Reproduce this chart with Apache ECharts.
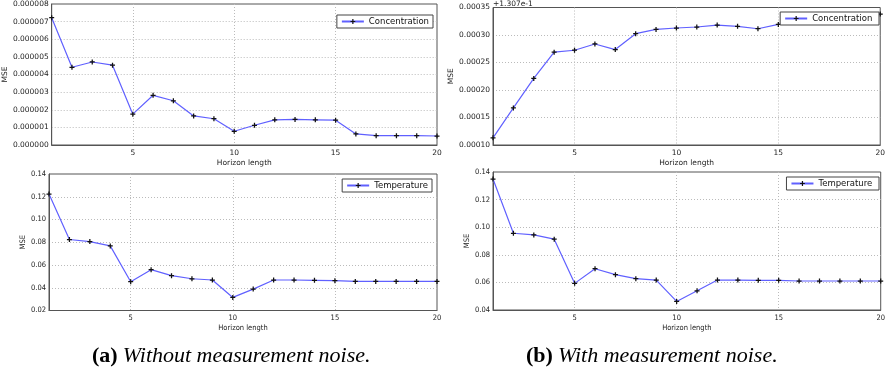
<!DOCTYPE html>
<html>
<head>
<meta charset="utf-8">
<script src="https://cdn.jsdelivr.net/npm/echarts@6/dist/echarts.min.js"></script>
<style>
    html, body { margin: 0; padding: 0; background: #fff; }
    #chart { width: 888px; height: 372px; }
</style>
</head>
<body>
<div id="chart"></div>
<script>
// horizon lengths (x axis)
const horizon = ["1", "2", "3", "4", "5", "6", "7", "8", "9", "10",
    "11", "12", "13", "14", "15", "16", "17", "18", "19", "20"];

// (a) without measurement noise
const concNoNoise = [7.22e-6, 4.41e-6, 4.71e-6, 4.53e-6, 1.75e-6, 2.82e-6, 2.51e-6, 1.65e-6, 1.49e-6, 0.78e-6,
    1.12e-6, 1.43e-6, 1.45e-6, 1.43e-6, 1.41e-6, 0.63e-6, 0.53e-6, 0.53e-6, 0.53e-6, 0.51e-6];
const tempNoNoise = [0.1224, 0.0824, 0.0806, 0.0768, 0.0453, 0.0559, 0.0506, 0.0479, 0.0468, 0.0315,
    0.0388, 0.0468, 0.0468, 0.0465, 0.0462, 0.0456, 0.0456, 0.0456, 0.0456, 0.0456];

// (b) with measurement noise (concentration shown relative to offset +1.307e-1)
const concOffsetText = "+1.307e-1";
const concNoise = [0.000113, 0.0001675, 0.000221, 0.0002687, 0.0002723, 0.0002837, 0.0002735, 0.0003024, 0.0003102, 0.0003127,
    0.0003145, 0.000318, 0.0003157, 0.0003114, 0.0003193, 0.000326, 0.00033, 0.000333, 0.000335, 0.000338];
const tempNoise = [0.1349, 0.0956, 0.0944, 0.0913, 0.0593, 0.0699, 0.0656, 0.0627, 0.0617, 0.0462,
    0.0539, 0.0617, 0.0617, 0.0615, 0.0615, 0.061, 0.061, 0.061, 0.061, 0.061];

// y axis ranges [min, max, interval, decimals]
const yConcA = [0, 0.000008, 0.000001, 6];
const yTempA = [0.02, 0.14, 0.02, 2];
const yConcB = [0.0001, 0.00035, 0.00005, 5];
const yTempB = [0.04, 0.14, 0.02, 2];

const font = "DejaVu Sans";
const axisColor = "#555";
const plusSymbol = "path://M-1,-4H1V-1H4V1H1V4H-1V1H-4V-1H-1Z";

const grids = [
    { left: 49, top: 3.5, width: 388, height: 141.5 },
    { left: 493, top: 7.5, width: 390, height: 137.5 },
    { left: 49, top: 174, width: 388, height: 136.5 },
    { left: 493, top: 172, width: 391, height: 138 },
];

function makeX(i, condensed) {
    return {
        type: "category",
        gridIndex: i,
        data: horizon,
        boundaryGap: false,
        name: "Horizon length",
        nameLocation: "middle",
        nameGap: 14,
        nameTextStyle: { fontFamily: condensed ? "DejaVu Sans Condensed" : font, fontSize: 7.5, color: "#222" },
        axisLine: { show: true, lineStyle: { color: axisColor } },
        axisTick: { show: false },
        axisLabel: {
            interval: (idx, val) => Number(val) % 5 === 0,
            fontFamily: condensed ? "DejaVu Sans Condensed" : font,
            fontSize: 7.5,
            color: "#222",
            margin: 4,
        },
        splitLine: {
            show: true,
            interval: (idx, val) => Number(val) % 5 === 0 && Number(val) !== 20,
            lineStyle: { color: "#bbb", type: [1, 2], width: 1 },
        },
    };
}

function makeY(i, r, nameGap, condensed) {
    return {
        type: "value",
        gridIndex: i,
        min: r[0],
        max: r[1],
        interval: r[2],
        name: "MSE",
        nameLocation: "middle",
        nameGap: nameGap,
        nameTextStyle: { fontFamily: condensed ? "DejaVu Sans Condensed" : font, fontSize: 7.5, color: "#222" },
        axisLine: { show: true, lineStyle: { color: axisColor } },
        axisTick: { show: false },
        axisLabel: {
            fontFamily: condensed ? "DejaVu Sans Condensed" : font,
            fontSize: 7.5,
            color: "#222",
            margin: 3,
            formatter: (v) => v.toFixed(r[3]),
        },
        splitLine: {
            show: true,
            showMinLine: false,
            showMaxLine: false,
            lineStyle: { color: "#bbb", type: [1, 2], width: 1 },
        },
    };
}

function makeSeries(i, name, data) {
    return {
        name: name,
        type: "line",
        xAxisIndex: i,
        yAxisIndex: i,
        data: data,
        symbol: plusSymbol,
        symbolSize: 5,
        showAllSymbol: true,
        itemStyle: { color: "#111" },
        lineStyle: { color: "#6060ff", width: 1.2 },
        z: 2,
    };
}

function makeLegend(i, name, right, top) {
    return {
        data: [name],
        right: right,
        top: top,
        orient: "vertical",
        backgroundColor: "#fff",
        borderColor: "#444",
        borderWidth: 1,
        borderRadius: 0,
        padding: [2, 4, 2, 4],
        itemWidth: 22,
        itemHeight: 6,
        itemGap: 0,
        selectedMode: false,
        textStyle: { fontFamily: font, fontSize: 8.5, color: "#111" },
        z: 10,
    };
}

const captionRich = {
    b: { fontFamily: "Liberation Serif", fontWeight: "bold", fontSize: 22, color: "#000" },
    i: { fontFamily: "Liberation Serif", fontWeight: "normal", fontStyle: "italic", fontSize: 22, color: "#000" },
};

const chart = echarts.init(document.getElementById("chart"), null, { renderer: "canvas" });
chart.setOption({
    animation: false,
    backgroundColor: "#fff",
    grid: grids.map((g) => Object.assign({ show: true, borderColor: axisColor, borderWidth: 1, backgroundColor: "transparent" }, g)),
    xAxis: [makeX(0, false), makeX(1, false), makeX(2, true), makeX(3, true)],
    yAxis: [makeY(0, yConcA, 39, false), makeY(1, yConcB, 33, false), makeY(2, yTempA, 21, true), makeY(3, yTempB, 22, true)],
    legend: [
        makeLegend(0, "Concentration", 888 - 433, 15),
        makeLegend(1, "Concentration ", 888 - 879, 12),
        makeLegend(2, "Temperature", 888 - 432, 179),
        makeLegend(3, "Temperature ", 888 - 879, 177),
    ],
    series: [
        makeSeries(0, "Concentration", concNoNoise),
        makeSeries(1, "Concentration ", concNoise),
        makeSeries(2, "Temperature", tempNoNoise),
        makeSeries(3, "Temperature ", tempNoise),
    ],
    graphic: [
        {
            type: "text",
            left: 493,
            top: 0,
            style: { text: concOffsetText, font: "7.5px DejaVu Sans", fill: "#222" },
        },
    ],
    title: [
        {
            text: "{b|(a)} {i|Without measurement noise.}",
            left: 92,
            top: 345,
            padding: 0,
            textStyle: { fontWeight: "normal", rich: captionRich },
        },
        {
            text: "{b|(b)} {i|With measurement noise.}",
            left: 526,
            top: 345,
            padding: 0,
            textStyle: { fontWeight: "normal", rich: captionRich },
        },
    ],
});
</script>
</body>
</html>
